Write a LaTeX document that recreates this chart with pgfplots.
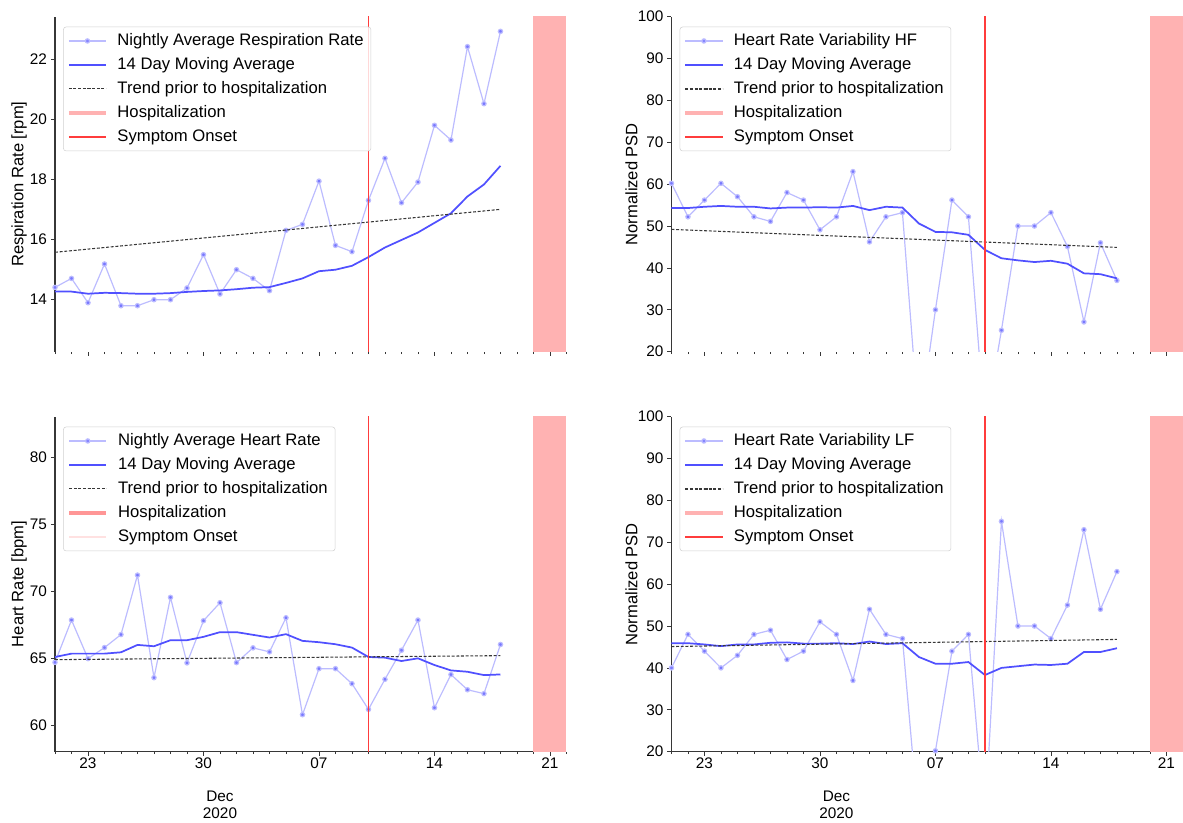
\documentclass[border=0pt]{standalone}
\usepackage{fontspec}
\setmainfont{Liberation Sans}
\usepackage{pgfplots}
\pgfplotsset{compat=1.18}
\usepackage{pgfplotstable}

\definecolor{nightly}{RGB}{188,188,255}
\definecolor{nightlymark}{RGB}{120,120,255}
\definecolor{mavg}{RGB}{80,80,255}
\definecolor{trend}{RGB}{55,55,55}
\definecolor{band}{RGB}{255,178,178}
\definecolor{onset}{RGB}{255,60,60}
\definecolor{spine}{RGB}{55,55,55}

% columns: x (day, 21 = Nov 21, 31 = Dec 1), nightly value, 14 day moving average
\pgfplotstableread{
x nightly ma
21 14.41 14.27
22 14.71 14.27
23 13.90 14.20
24 15.19 14.23
25 13.80 14.22
26 13.80 14.20
27 14.00 14.20
28 14.00 14.22
29 14.39 14.26
30 15.50 14.29
31 14.19 14.31
32 15.00 14.35
33 14.71 14.40
34 14.30 14.42
35 16.31 14.56
36 16.51 14.71
37 17.95 14.95
38 15.81 15.00
39 15.60 15.13
40 17.31 15.42
41 18.71 15.74
42 17.23 15.99
43 17.92 16.24
44 19.81 16.56
45 19.32 16.88
46 22.43 17.44
47 20.53 17.84
48 22.94 18.46
}\resp

\pgfplotstableread{
x nightly ma
21 60.2 54.3
22 52.2 54.3
23 56.2 54.6
24 60.2 54.8
25 57.0 54.6
26 52.2 54.6
27 51.1 54.2
28 58.0 54.4
29 56.2 54.4
30 49.1 54.5
31 52.2 54.4
32 63.0 54.8
33 46.2 53.8
34 52.2 54.6
35 53.2 54.4
36  2.0 50.6
37 30.0 48.6
38 56.2 48.5
39 52.2 47.9
40  2.0 44.3
41 25.1 42.3
42 50.0 41.8
43 50.0 41.4
44 53.2 41.7
45 45.1 41.0
46 27.1 38.7
47 46.0 38.5
48 37.0 37.5
}\hf

\pgfplotstableread{
x nightly ma
21 64.70 65.10
22 67.85 65.35
23 64.98 65.35
24 65.80 65.35
25 66.77 65.45
26 71.20 66.00
27 63.56 65.90
28 69.54 66.35
29 64.66 66.35
30 67.80 66.60
31 69.14 66.95
32 64.68 66.95
33 65.78 66.75
34 65.48 66.55
35 68.02 66.80
36 60.80 66.30
37 64.23 66.20
38 64.23 66.05
39 63.11 65.80
40 61.20 65.10
41 63.44 65.05
42 65.60 64.80
43 67.85 65.00
44 61.32 64.50
45 63.79 64.10
46 62.66 64.00
47 62.37 63.75
48 66.03 63.80
}\hr

\pgfplotstableread{
x nightly ma
21 40.0 45.9
22 48.0 45.9
23 44.0 45.6
24 40.0 45.2
25 43.0 45.6
26 48.0 45.6
27 49.0 46.0
28 42.0 46.1
29 44.0 45.8
30 51.0 45.8
31 48.0 45.9
32 37.0 45.7
33 54.0 46.3
34 48.0 45.7
35 47.0 45.9
36  2.0 42.6
37 20.2 41.0
38 44.0 41.0
39 48.0 41.4
40  3.0 38.3
41 75.0 40.0
42 50.0 40.4
43 50.0 40.8
44 47.0 40.7
45 55.0 41.0
46 73.0 43.8
47 54.0 43.8
48 63.0 44.7
}\lf

\pgfplotsset{
  panel/.style={
    scale only axis, width=383.6pt, height=251.25pt, anchor=south west,
    xmin=21, xmax=52, clip mode=individual,
    axis y line*=left, axis x line*=bottom,
    xtick={23,30,37,44,51}, xticklabels={23,30,07,14,21},
    minor xtick={21,...,52},
    tick align=outside, major tick length=3pt, minor tick length=1.8pt,
    tick style={spine, line width=0.6pt},
    axis line style={spine, line width=0.9pt},
    tick label style={font=\fontsize{11.5}{13}\selectfont},
    xticklabel style={yshift=2pt},
    yticklabel style={xshift=0.5pt},
    /pgf/number format/assume math mode=true,
    every axis y label/.style={at={(axis description cs:-0.071,0.5)}, rotate=90, anchor=center, font=\fontsize{12.4}{14}\selectfont},
    legend cell align=left,
    legend style={at={(0.016,0.97)}, anchor=north west, draw=black!18, rounded corners=2pt,
      fill=white, fill opacity=0.8, text opacity=1, draw opacity=1,
      font=\fontsize{12.5}{14}\selectfont, inner xsep=2.5pt, inner ysep=1.5pt,
      nodes={inner xsep=3pt, inner ysep=3.25pt, text height=9pt, text depth=2.5pt},
      /tikz/every odd column/.append style={column sep=4pt}},
    legend image code/.code={\draw[mark repeat=2,mark phase=2,##1] plot coordinates {(0pt,0pt) (14pt,0pt) (28pt,0pt)};},
  },
  toppanel/.style={panel, xticklabels={}, x axis line style={draw=none}},
  nightlyst/.style={color=nightly, line width=0.9pt, mark=*, mark size=1.6pt, mark options={draw=none, fill=nightlymark}},
  mast/.style={color=mavg, line width=1.3pt, no marks},
  trendst/.style={color=trend, line width=0.8pt, dash pattern=on 2.2pt off 1.3pt, no marks},
}

\begin{document}
\begin{tikzpicture}
\path[use as bounding box] (0,0) rectangle (887.25pt,617.25pt);

% ---------------- top left: respiration rate
\begin{axis}[toppanel, at={(41.25pt,353.5pt)}, ymin=12.27, ymax=23.43,
  ytick={14,16,18,20,22}, ylabel={Respiration Rate [rpm]},
  every axis y label/.append style={at={(axis description cs:-0.07,0.5)}}]
\addplot[fill=band, draw=none, forget plot] coordinates {(50,0) (52,0) (52,200) (50,200)} -- cycle;
\addplot[nightlyst] table[x=x, y=nightly] {\resp};
\addlegendentry{Nightly Average Respiration Rate}
\addplot[mast] table[x=x, y=ma] {\resp};
\addlegendentry{14 Day Moving Average}
\addplot[trendst] coordinates {(21,15.58) (48,17.01)};
\addlegendentry{Trend prior to hospitalization}
\addplot[onset, line width=1.1pt, forget plot] coordinates {(40,0) (40,200)};
\addlegendimage{band, line width=3pt}
\addlegendentry{Hospitalization}
\addlegendimage{onset, line width=1.2pt}
\addlegendentry{Symptom Onset}
\end{axis}

% ---------------- top right: HRV HF
\begin{axis}[toppanel, at={(503.6pt,353.5pt)}, ymin=20, ymax=100,
  ytick={20,30,...,100}, ylabel={Normalized PSD},
  every axis y label/.append style={at={(axis description cs:-0.078,0.5)}}]
\addplot[fill=band, draw=none, forget plot] coordinates {(50,0) (52,0) (52,200) (50,200)} -- cycle;
\addplot[nightlyst] table[x=x, y=nightly] {\hf};
\addlegendentry{Heart Rate Variability HF}
\addplot[mast] table[x=x, y=ma] {\hf};
\addlegendentry{14 Day Moving Average}
\addplot[trendst] coordinates {(21,49.2) (48,44.9)};
\addlegendentry{Trend prior to hospitalization}
\addplot[onset, line width=1.1pt, forget plot] coordinates {(40,0) (40,200)};
\addlegendimage{band, line width=3pt}
\addlegendentry{Hospitalization}
\addlegendimage{onset, line width=1.2pt}
\addlegendentry{Symptom Onset}
\end{axis}

% ---------------- bottom left: heart rate
\begin{axis}[panel, at={(41.25pt,53.5pt)}, ymin=58.05, ymax=83.0,
  ytick={60,65,70,75,80}, ylabel={Heart Rate [bpm]},
  every axis y label/.append style={at={(axis description cs:-0.07,0.5)}}]
\addplot[fill=band, draw=none, forget plot] coordinates {(50,0) (52,0) (52,200) (50,200)} -- cycle;
\addplot[nightlyst] table[x=x, y=nightly] {\hr};
\addlegendentry{Nightly Average Heart Rate}
\addplot[mast] table[x=x, y=ma] {\hr};
\addlegendentry{14 Day Moving Average}
\addplot[trendst] coordinates {(21,64.9) (48,65.2)};
\addlegendentry{Trend prior to hospitalization}
\addplot[onset, line width=1.1pt, forget plot] coordinates {(40,0) (40,200)};
\addlegendimage{color={rgb,255:red,255;green,150;blue,150}, line width=3.5pt}
\addlegendentry{Hospitalization}
\addlegendimage{color={rgb,255:red,255;green,225;blue,225}, line width=1pt}
\addlegendentry{Symptom Onset}
\node[align=center, anchor=north, inner sep=0pt, font=\fontsize{11.5}{12.75}\selectfont] at (axis cs:31,58.05) [yshift=-29pt] {Dec\\2020};
\end{axis}

% ---------------- bottom right: HRV LF
\begin{axis}[panel, at={(503.6pt,53.5pt)}, ymin=20, ymax=100,
  ytick={20,30,...,100}, ylabel={Normalized PSD},
  every axis y label/.append style={at={(axis description cs:-0.078,0.5)}}]
\addplot[fill=band, draw=none, forget plot] coordinates {(50,0) (52,0) (52,200) (50,200)} -- cycle;
\addplot[nightlyst] table[x=x, y=nightly] {\lf};
\addlegendentry{Heart Rate Variability LF}
\addplot[mast] table[x=x, y=ma] {\lf};
\addlegendentry{14 Day Moving Average}
\addplot[trendst] coordinates {(21,45.1) (48,46.8)};
\addlegendentry{Trend prior to hospitalization}
\addplot[onset, line width=1.1pt, forget plot] coordinates {(40,0) (40,200)};
\addlegendimage{band, line width=3pt}
\addlegendentry{Hospitalization}
\addlegendimage{onset, line width=1.2pt}
\addlegendentry{Symptom Onset}
\node[align=center, anchor=north, inner sep=0pt, font=\fontsize{11.5}{12.75}\selectfont] at (axis cs:31,20) [yshift=-29pt] {Dec\\2020};
\end{axis}
\end{tikzpicture}
\end{document}
